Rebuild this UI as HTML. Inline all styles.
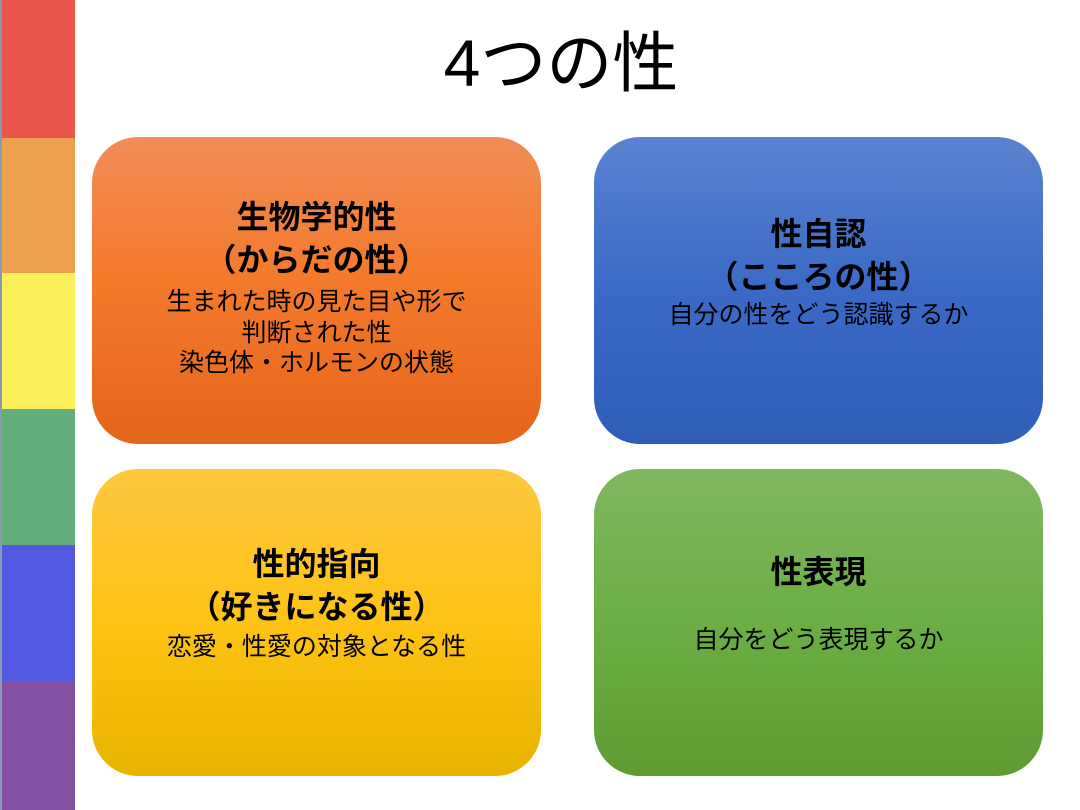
<!DOCTYPE html>
<html><head><meta charset="utf-8"><style>
body{margin:0;width:1080px;height:810px;background:#fff;position:relative;overflow:hidden;font-family:"Liberation Sans","Noto Sans CJK JP",sans-serif;}
.bar{position:absolute;left:0;width:75px;border-left:2px solid #8a9bb0;box-sizing:border-box}
.box{position:absolute;width:449px;height:307px;border-radius:46px;text-align:center;color:#000}
.t{position:absolute;left:0;right:0;white-space:nowrap}
.b{font-weight:bold;font-size:32px}
.n{font-size:25px}
</style></head><body>
<div class="bar" style="top:0;height:138px;background:#ea554c"></div>
<div class="bar" style="top:138px;height:135px;background:#eda050"></div>
<div class="bar" style="top:273px;height:136px;background:#fbf05a"></div>
<div class="bar" style="top:409px;height:136px;background:#63ad7c"></div>
<div class="bar" style="top:545px;height:136px;background:#5358e0"></div>
<div class="bar" style="top:681px;height:129px;background:#8450a4"></div>
<div class="t" style="left:75px;top:10px;font-size:66px;text-align:center;width:972px">4つの性</div>

<div class="box" style="left:92px;top:137px;background:linear-gradient(#f18d58,#f47a2c 45%,#e5651a)">
<div class="t b" style="top:55px">生物学的性</div>
<div class="t b" style="top:98px">（からだの性）</div>
<div class="t n" style="top:145px">生まれた時の見た目や形で</div>
<div class="t n" style="top:176px">判断された性</div>
<div class="t n" style="top:206px">染色体・ホルモンの状態</div>
</div>
<div class="box" style="left:594px;top:137px;background:linear-gradient(#5a82d0,#3a6ac6 50%,#2e5eb6)">
<div class="t b" style="top:72px">性自認</div>
<div class="t b" style="top:115px">（こころの性）</div>
<div class="t n" style="top:158px">自分の性をどう認識するか</div>
</div>
<div class="box" style="left:92px;top:469px;background:linear-gradient(#fec840,#fec314 50%,#e8b400)">
<div class="t b" style="top:70px">性的指向</div>
<div class="t b" style="top:113px">（好きになる性）</div>
<div class="t n" style="top:158px">恋愛・性愛の対象となる性</div>
</div>
<div class="box" style="left:594px;top:469px;background:linear-gradient(#80b760,#6cae45 50%,#5e9c32)">
<div class="t b" style="top:78px">性表現</div>
<div class="t n" style="top:151px">自分をどう表現するか</div>
</div>
</body></html>
